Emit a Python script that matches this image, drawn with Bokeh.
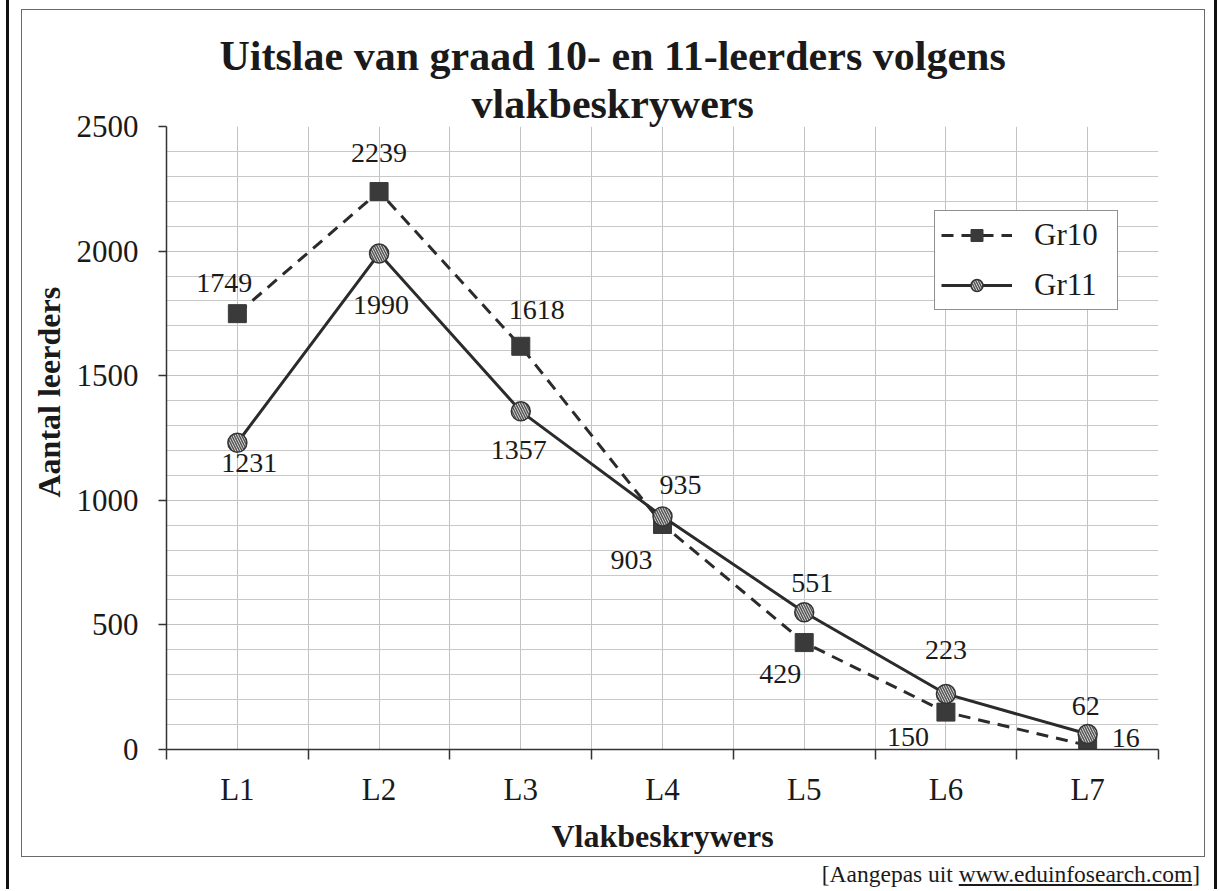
import numpy as np
from bokeh.plotting import figure
from bokeh.layouts import row, column
from bokeh.models import (ColumnDataSource, FixedTicker, SingleIntervalTicker, Title,
                          Range1d, LabelSet, Div)
from bokeh.core.properties import value
from bokeh.embed import file_html
from bokeh.resources import INLINE

# ---- data ----
categories = ["L1", "L2", "L3", "L4", "L5", "L6", "L7"]
gr10 = [1749, 2239, 1618, 903, 429, 150, 16]
gr11 = [1231, 1990, 1357, 935, 551, 223, 62]
series_names = ["Gr10", "Gr11"]

# ---- layout of the value labels (pixel offsets from their points, screen-down positive) ----
gr10_dx = [-13, 0, 16, -31, -24, -38, 38]
gr10_dy = [-31, -39, -36, 36, 31, 25, -8]
gr11_dx = [12, 2, -2, 18, 8, 0, -2]
gr11_dy = [20, 51, 39, -31, -29, -44, -28]

SERIF = "Liberation Serif"
INK = "#1a1a1a"
x = list(range(len(categories)))

p = figure(width=1182, height=846, title=None,
           x_range=Range1d(-0.5, len(categories) - 0.5), y_range=Range1d(0, 2500),
           output_backend="svg", toolbar_location=None,
           min_border_left=143, min_border_right=46, min_border_top=116, min_border_bottom=107,
           background_fill_color="white", border_fill_color="white", outline_line_color=None,
           margin=(10, 3, 0, 13))
p.styles = {"outline": "1.5px solid #6a6a6a", "outline-offset": "0px"}

# axes
p.xaxis.ticker = FixedTicker(ticks=x, minor_ticks=[i - 0.5 for i in range(len(categories) + 1)])
p.xaxis.major_label_overrides = {i: c for i, c in enumerate(categories)}
p.xaxis.major_tick_out = 0
p.xaxis.major_tick_in = 0
p.xaxis.minor_tick_out = 10
p.xaxis.minor_tick_in = 0
p.xaxis.major_label_standoff = 12
p.xaxis.axis_label = "Vlakbeskrywers"
p.xaxis.axis_label_standoff = 8

p.yaxis.ticker = SingleIntervalTicker(interval=500, num_minor_ticks=5)
p.yaxis.major_tick_out = 8
p.yaxis.major_tick_in = 0
p.yaxis.minor_tick_out = 0
p.yaxis.minor_tick_in = 0
p.yaxis.major_label_standoff = 20

for ax in (p.xaxis, p.yaxis):
    ax.axis_line_color = "#333333"
    ax.axis_line_width = 1.5
    ax.major_tick_line_color = "#333333"
    ax.minor_tick_line_color = "#333333"
    ax.minor_tick_line_width = 1.5
    ax.major_tick_line_width = 1.5
    ax.major_label_text_font = SERIF
    ax.major_label_text_font_size = "31px"
    ax.major_label_text_color = INK
    ax.axis_label_text_font = SERIF
    ax.axis_label_text_font_size = "32px"
    ax.axis_label_text_font_style = "bold"
    ax.axis_label_text_color = INK

# grids
p.xgrid.ticker = FixedTicker(ticks=[i * 0.5 - 0.5 for i in range(2 * len(categories) + 1)])
p.xgrid.grid_line_color = "#c2c2c2"
p.ygrid.grid_line_color = "#c2c2c2"
p.ygrid.minor_grid_line_color = "#c8c8c8"

# series
p.line(x, gr10, line_dash="12 8", line_width=3, line_color="#2b2b2b", legend_label="Gr10")
p.scatter(x, gr10, marker="square", size=18, fill_color="#3a3a3a", line_color="#3a3a3a",
          legend_label="Gr10")
p.line(x, gr11, line_width=3, line_color="#2b2b2b", legend_label="Gr11")
p.scatter(x, gr11, marker="circle", size=19, fill_color="#e4e4e4", line_color="#333333",
          line_width=1.5, hatch_pattern="left_diagonal_line", hatch_color="#555555",
          hatch_scale=5, hatch_weight=1.5, legend_label="Gr11")

# value labels
for vals, dx, dy in ((gr10, gr10_dx, gr10_dy), (gr11, gr11_dx, gr11_dy)):
    src = ColumnDataSource(dict(x=x, y=vals, t=[str(v) for v in vals],
                                dx=dx, dy=[-d for d in dy]))
    p.add_layout(LabelSet(x="x", y="y", text="t", x_offset="dx", y_offset="dy", source=src,
                          text_font=SERIF, text_font_size="28px", text_align="center",
                          text_baseline="middle", text_color=INK))

# legend
lg = p.legend[0]
lg.location = (768, 439)
lg.border_line_color = "#222222"
lg.border_line_width = 1.5
lg.background_fill_color = "white"
lg.background_fill_alpha = 1
lg.padding = 6
lg.margin = 0
lg.spacing = 14
lg.glyph_width = 71
lg.glyph_height = 30
lg.label_height = 30
lg.label_width = 77
lg.label_standoff = 22
lg.label_text_font = SERIF
lg.label_text_font_size = "31px"
lg.label_text_color = INK

# titles
p.add_layout(Title(text="vlakbeskrywers", align="left", offset=305, standoff=0,
                   text_font=SERIF, text_font_size="42px", text_font_style="bold",
                   text_color=INK), "above")
p.add_layout(Title(text="Uitslae van graad 10- en 11-leerders volgens", align="left",
                   offset=53, standoff=0, text_font=SERIF, text_font_size="42px",
                   text_font_style="bold", text_color=INK), "above")
p.add_layout(Title(text="Aantal leerders", align="left", offset=252, standoff=13,
                   text_font=SERIF, text_font_size="32px", text_font_style="bold",
                   text_color=INK), "left")

# source note and page frame
src_note = Div(text="[Aangepas uit <u>www.eduinfosearch.com</u>]", width=1178, height=30,
               margin=(4, 0, 0, 13),
               styles={"font-family": SERIF, "font-size": "23.5px", "text-align": "right",
                       "color": INK, "line-height": "28px"})
left_bar = Div(text="", width=3, height=889, margin=(0, 0, 0, 6),
               styles={"background-color": "#111111"})
right_bar = Div(text="", width=3, height=889, margin=(0, 0, 0, 7),
                styles={"background-color": "#111111"})
page = row(left_bar, column(p, src_note, spacing=0), right_bar, spacing=0)

open("out.html", "w").write(file_html(page, INLINE))
